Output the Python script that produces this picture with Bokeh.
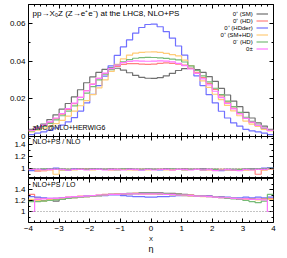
import numpy as np
from bokeh.plotting import figure
from bokeh.layouts import column
from bokeh.models import (LinearAxis, FixedTicker, Span, Label, Legend, LegendItem, Range1d, Title)
from bokeh.embed import file_html
from bokeh.resources import INLINE

# ---------------- data ----------------
bin_edges = np.round(np.linspace(-4.0, 4.0, 41), 2)

labels = ["0⁺ (SM)", "0⁺ (HD)", "0⁺ (HDder)", "0⁺ (SM+HD)", "0⁻ (HD)", "0±"]
colors = ["#707070", "#ff8080", "#7070ff", "#ffcc77", "#77bb77", "#ff77ff"]

sm = [0.0038, 0.0050, 0.0066, 0.0090, 0.0115, 0.0145, 0.0175, 0.0210, 0.0248, 0.0285,
      0.0316, 0.0340, 0.0356, 0.0364, 0.0362, 0.0352, 0.0338, 0.0324, 0.0314, 0.0309,
      0.0308, 0.0312, 0.0322, 0.0335, 0.0350, 0.0360, 0.0362, 0.0355, 0.0340, 0.0318,
      0.0292, 0.0255, 0.0220, 0.0188, 0.0158, 0.0128, 0.0098, 0.0072, 0.0055, 0.0038]
hd = [0.0030, 0.0044, 0.0058, 0.0074, 0.0094, 0.0118, 0.0144, 0.0174, 0.0208, 0.0244,
      0.0278, 0.0308, 0.0334, 0.0356, 0.0372, 0.0382, 0.0386, 0.0386, 0.0384, 0.0382,
      0.0384, 0.0388, 0.0390, 0.0388, 0.0384, 0.0378, 0.0362, 0.0340, 0.0312, 0.0282,
      0.0250, 0.0215, 0.0182, 0.0150, 0.0122, 0.0096, 0.0075, 0.0058, 0.0042, 0.0032]
hdder = [0.0010, 0.0018, 0.0025, 0.0033, 0.0045, 0.0060, 0.0078, 0.0100, 0.0135, 0.0178,
         0.0223, 0.0270, 0.0320, 0.0375, 0.0430, 0.0475, 0.0512, 0.0548, 0.0578, 0.0594,
         0.0596, 0.0582, 0.0556, 0.0522, 0.0480, 0.0432, 0.0376, 0.0322, 0.0270, 0.0222,
         0.0178, 0.0134, 0.0098, 0.0072, 0.0055, 0.0038, 0.0030, 0.0024, 0.0018, 0.0010]
smhd = [0.0025, 0.0034, 0.0044, 0.0055, 0.0068, 0.0086, 0.0108, 0.0135, 0.0163, 0.0190,
        0.0222, 0.0258, 0.0300, 0.0345, 0.0382, 0.0412, 0.0432, 0.0442, 0.0446, 0.0448,
        0.0449, 0.0446, 0.0441, 0.0434, 0.0428, 0.0405, 0.0376, 0.0335, 0.0295, 0.0260,
        0.0224, 0.0196, 0.0165, 0.0136, 0.0110, 0.0082, 0.0066, 0.0054, 0.0038, 0.0030]
minus_hd = [0.0030, 0.0040, 0.0054, 0.0070, 0.0088, 0.0110, 0.0135, 0.0162, 0.0195, 0.0230,
            0.0265, 0.0300, 0.0330, 0.0355, 0.0378, 0.0396, 0.0408, 0.0415, 0.0418, 0.0420,
            0.0419, 0.0417, 0.0414, 0.0410, 0.0406, 0.0395, 0.0375, 0.0350, 0.0322, 0.0290,
            0.0256, 0.0222, 0.0188, 0.0158, 0.0128, 0.0102, 0.0080, 0.0060, 0.0044, 0.0032]
mixed = [0.0032, 0.0046, 0.0060, 0.0078, 0.0098, 0.0122, 0.0148, 0.0177, 0.0208, 0.0242,
         0.0276, 0.0308, 0.0336, 0.0360, 0.0378, 0.0392, 0.0398, 0.0401, 0.0400, 0.0399,
         0.0400, 0.0401, 0.0400, 0.0396, 0.0388, 0.0376, 0.0358, 0.0335, 0.0306, 0.0274,
         0.0240, 0.0206, 0.0175, 0.0146, 0.0120, 0.0096, 0.0076, 0.0059, 0.0045, 0.0033]

# NLO+PS / NLO
sm_nlo = [0.99, 0.98, 0.99, 1.00, 0.99, 0.98, 0.99, 0.99, 1.00, 0.99, 1.00, 0.99, 0.99, 1.00, 0.99, 0.99, 1.00, 0.99, 0.99, 0.99,
          0.99, 0.99, 1.00, 0.99, 0.99, 1.00, 0.99, 0.99, 1.00, 0.99, 0.99, 0.98, 0.99, 0.98, 0.98, 0.99, 1.00, 0.99, 1.00, 1.00]
hd_nlo = [0.98, 0.96, 0.97, 0.98, 0.99, 0.99, 0.98, 0.99, 0.99, 1.00, 0.99, 0.99, 0.99, 0.98, 0.99, 0.99, 0.99, 0.98, 0.99, 0.99,
          0.99, 0.99, 0.99, 0.98, 0.99, 0.99, 0.99, 0.99, 0.99, 0.98, 0.99, 0.99, 0.98, 0.98, 0.99, 0.98, 0.99, 0.91, 0.98, 0.99]
hdder_nlo = [0.97, 0.99, 0.98, 1.00, 1.01, 0.99, 0.98, 1.00, 0.99, 0.99, 0.99, 1.00, 0.99, 0.99, 0.98, 0.99, 0.99, 0.99, 0.98, 0.99,
             0.99, 0.98, 0.99, 0.99, 0.99, 0.98, 0.99, 0.99, 0.99, 0.99, 0.98, 0.97, 0.98, 0.99, 0.98, 0.99, 0.99, 1.00, 1.01, 1.02]
smhd_nlo = [0.99, 0.98, 0.97, 0.99, 0.91, 0.98, 0.99, 0.98, 0.99, 0.99, 0.98, 0.99, 0.99, 0.99, 0.98, 0.99, 0.98, 0.99, 0.99, 0.98,
            0.99, 0.99, 0.98, 0.99, 0.99, 0.98, 0.99, 0.99, 0.98, 0.99, 0.98, 0.99, 0.98, 0.99, 0.99, 0.98, 0.98, 0.99, 0.98, 0.99]
minus_hd_nlo = [1.00, 0.99, 1.00, 0.99, 0.99, 1.00, 0.99, 0.99, 0.99, 0.99, 1.00, 0.99, 0.99, 0.99, 0.99, 1.00, 0.99, 0.99, 0.99, 1.00,
                0.99, 0.99, 0.99, 1.00, 0.99, 0.99, 0.99, 0.99, 0.98, 0.99, 0.99, 0.98, 0.99, 0.99, 0.99, 1.00, 0.99, 1.00, 1.00, 1.01]
mixed_nlo = [0.99, 0.99, 0.98, 0.99, 0.99, 0.99, 0.98, 0.99, 0.99, 0.98, 0.99, 0.99, 0.98, 0.99, 0.99, 0.98, 0.99, 0.99, 0.98, 0.99,
             0.98, 0.99, 0.99, 0.98, 0.99, 0.99, 0.98, 0.99, 0.98, 0.99, 0.97, 0.98, 0.99, 0.98, 0.97, 0.99, 0.98, 0.99, 0.99, 1.00]

# NLO+PS / LO
sm_lo = [1.20, 1.22, 1.20, 1.22, 1.19, 1.22, 1.24, 1.25, 1.26, 1.27, 1.28, 1.29, 1.30, 1.31, 1.31, 1.32, 1.33, 1.33, 1.34, 1.34,
         1.34, 1.34, 1.33, 1.33, 1.32, 1.31, 1.30, 1.29, 1.28, 1.28, 1.27, 1.26, 1.25, 1.24, 1.22, 1.22, 1.23, 1.22, 1.23, 1.22]
hd_lo = [1.31, 1.25, 1.24, 1.23, 1.24, 1.25, 1.26, 1.27, 1.28, 1.28, 1.29, 1.30, 1.31, 1.31, 1.32, 1.32, 1.32, 1.33, 1.32, 1.32,
         1.32, 1.32, 1.31, 1.31, 1.31, 1.30, 1.30, 1.29, 1.28, 1.28, 1.27, 1.26, 1.25, 1.24, 1.23, 1.23, 1.22, 1.22, 1.23, 1.24]
hdder_lo = [1.27, 1.26, 1.25, 1.24, 1.24, 1.25, 1.25, 1.26, 1.27, 1.28, 1.28, 1.29, 1.29, 1.30, 1.30, 1.29, 1.28, 1.27, 1.27, 1.26,
            1.26, 1.27, 1.27, 1.28, 1.29, 1.29, 1.29, 1.28, 1.28, 1.28, 1.27, 1.26, 1.26, 1.25, 1.25, 1.26, 1.25, 1.26, 1.25, 1.26]
smhd_lo = [1.22, 1.20, 1.19, 1.21, 1.22, 1.23, 1.24, 1.25, 1.26, 1.27, 1.28, 1.29, 1.30, 1.31, 1.31, 1.32, 1.32, 1.33, 1.32, 1.32,
           1.32, 1.31, 1.31, 1.30, 1.30, 1.29, 1.28, 1.28, 1.27, 1.27, 1.26, 1.25, 1.25, 1.24, 1.23, 1.22, 1.22, 1.21, 1.22, 1.22]
minus_hd_lo = [1.18, 1.18, 1.19, 1.20, 1.21, 1.22, 1.24, 1.25, 1.26, 1.27, 1.28, 1.29, 1.30, 1.31, 1.31, 1.32, 1.32, 1.32, 1.33, 1.33,
               1.33, 1.32, 1.32, 1.31, 1.31, 1.30, 1.29, 1.28, 1.28, 1.27, 1.26, 1.25, 1.24, 1.23, 1.22, 1.20, 1.18, 1.16, 1.19, 1.31]
mixed_lo = [1.00, 1.22, 1.23, 1.24, 1.24, 1.25, 1.26, 1.27, 1.27, 1.28, 1.29, 1.30, 1.30, 1.31, 1.31, 1.32, 1.32, 1.32, 1.32, 1.32,
            1.32, 1.32, 1.31, 1.31, 1.30, 1.30, 1.29, 1.28, 1.28, 1.27, 1.26, 1.25, 1.25, 1.24, 1.23, 1.23, 1.22, 1.22, 1.21, 1.00]

main_series = [sm, hd, hdder, smhd, minus_hd, mixed]
nlo_series = [sm_nlo, hd_nlo, hdder_nlo, smhd_nlo, minus_hd_nlo, mixed_nlo]
lo_series = [sm_lo, hd_lo, hdder_lo, smhd_lo, minus_hd_lo, mixed_lo]

x_ticks = [-4, -3, -2, -1, 0, 1, 2, 3, 4]
x_minor = [round(-4 + 0.2 * i, 1) for i in range(41) if i % 5 != 0]
main_ticks = [0, 0.02, 0.04, 0.06]
main_minor = [0.01, 0.03, 0.05, 0.07]
ratio_ticks = [1, 1.2, 1.4]
ratio_minor = [0.9, 1.1, 1.3, 1.5]

FONT = "Liberation Sans"
FRAME_W = 245


def step_y(vals):
    return list(vals) + [vals[-1]]


def add_labelled_axis(p, side, majors, minors, overrides=None):
    ax = LinearAxis(ticker=FixedTicker(ticks=majors, minor_ticks=minors))
    ax.axis_line_color = None
    ax.major_tick_in = 4
    ax.major_tick_out = 0
    ax.minor_tick_in = 2
    ax.minor_tick_out = 0
    ax.major_tick_line_color = "black"
    ax.minor_tick_line_color = "black"
    ax.major_label_text_font = FONT
    ax.major_label_text_font_size = "8px"
    ax.major_label_text_color = "black"
    ax.major_label_standoff = 3
    if overrides:
        ax.major_label_overrides = overrides
    p.add_layout(ax, side)
    return ax


def add_mirror(p, side, majors, minors):
    for pos, length in ((majors, 4), (minors, 2)):
        ax = LinearAxis(ticker=FixedTicker(ticks=[], minor_ticks=pos))
        ax.axis_line_color = None
        ax.major_tick_line_color = None
        ax.major_tick_out = 0
        ax.major_tick_in = 0
        ax.minor_tick_line_color = "black"
        ax.minor_tick_in = length
        ax.minor_tick_out = 0
        ax.major_label_standoff = 0
        p.add_layout(ax, side)


def make_panel(frame_h, y_range, ymaj, ymin, yoverrides, bottom_labels,
               top_border=0, bottom_border=0, transparent=False, styles=None):
    p = figure(frame_width=FRAME_W, frame_height=frame_h, title=None,
               x_range=Range1d(-4, 4), y_range=Range1d(*y_range),
               x_axis_location=None, y_axis_location=None,
               output_backend="svg", toolbar_location=None,
               min_border_left=28, min_border_right=14,
               min_border_top=top_border, min_border_bottom=bottom_border,
               styles=styles or {})
    p.xgrid.visible = False
    p.ygrid.visible = False
    p.outline_line_color = "black"
    p.outline_line_width = 1
    if transparent:
        p.background_fill_alpha = 0
        p.border_fill_alpha = 0
    else:
        p.background_fill_color = "white"
        p.border_fill_color = "white"
    add_labelled_axis(p, "left", ymaj, ymin, yoverrides)
    add_mirror(p, "right", ymaj, ymin)
    add_mirror(p, "above", x_ticks, x_minor)
    if bottom_labels:
        add_labelled_axis(p, "below", x_ticks, x_minor)
    else:
        add_mirror(p, "below", x_ticks, x_minor)
    return p


# ---------------- main panel ----------------
p1 = make_panel(132, (0, 0.07), main_ticks, main_minor, {0: "0"}, False,
                top_border=4, bottom_border=5)
renderers = []
for vals, col in zip(main_series, colors):
    r = p1.step(bin_edges, step_y(vals), mode="after", line_color=col, line_width=1.2)
    renderers.append(r)

p1.add_layout(Label(x=-3.87, y=0.0652, text="pp→X₀Z (Z→e⁺e⁻) at the LHC8, NLO+PS",
                    text_font=FONT, text_font_size="8px", text_baseline="middle",
                    text_color="black"))
p1.add_layout(Label(x=-3.87, y=0.0048, text="aMC@NLO+HERWIG6",
                    text_font=FONT, text_font_size="7px", text_baseline="middle",
                    text_color="black"))

legend_y = [0.0648, 0.0611, 0.0574, 0.0537, 0.0500, 0.0462]
for lab, ly in zip(labels, legend_y):
    p1.add_layout(Label(x=3.32, y=ly, text=lab, text_font=FONT, text_font_size="6px",
                        text_align="right", text_baseline="middle", text_color="black"))
leg = Legend(items=[LegendItem(label=" ", renderers=[r]) for r in renderers],
             location=(228, 84), glyph_width=12, glyph_height=7, label_height=7,
             label_width=0, label_standoff=0, spacing=0, padding=0, margin=0,
             label_text_font_size="5px", background_fill_alpha=0, border_line_alpha=0)
p1.add_layout(leg)

# ---------------- ratio panel: NLO+PS / NLO ----------------
p2 = make_panel(42, (0.84, 1.53), ratio_ticks, ratio_minor, {1: "1"}, False,
                transparent=True, styles={"margin-top": "-5px"})
for vals, col in zip(nlo_series, colors):
    p2.step(bin_edges, step_y(vals), mode="after", line_color=col, line_width=1.2)
p2.add_layout(Span(location=1, dimension="width", line_color="#888888", line_dash="1 2", line_width=1))
p2.add_layout(Label(x=-3.87, y=1.45, text="NLO+PS / NLO", text_font=FONT, text_font_size="7px",
                    text_baseline="middle", text_color="black"))

# ---------------- ratio panel: NLO+PS / LO ----------------
p3 = make_panel(44, (0.8, 1.6), ratio_ticks, ratio_minor, {1: "1"}, True)
for vals, col in zip(lo_series, colors):
    p3.step(bin_edges, step_y(vals), mode="after", line_color=col, line_width=1.2)
p3.add_layout(Span(location=1, dimension="width", line_color="#888888", line_dash="1 2", line_width=1))
p3.add_layout(Label(x=-3.87, y=1.49, text="NLO+PS / LO", text_font=FONT, text_font_size="7px",
                    text_baseline="middle", text_color="black"))
p3.add_layout(Title(text="X", align="center", offset=5, standoff=0, text_font=FONT,
                    text_font_size="6px", text_font_style="normal", text_color="black",
                    text_line_height=0.7), "below")
p3.add_layout(Title(text="η", align="center", offset=-2, standoff=0, text_font=FONT,
                    text_font_size="9px", text_font_style="normal", text_color="black"), "below")

layout = column(p1, p2, p3, spacing=0,
                styles={"position": "absolute", "top": "0px", "left": "0px"})

open("out.html", "w").write(file_html(layout, INLINE))
